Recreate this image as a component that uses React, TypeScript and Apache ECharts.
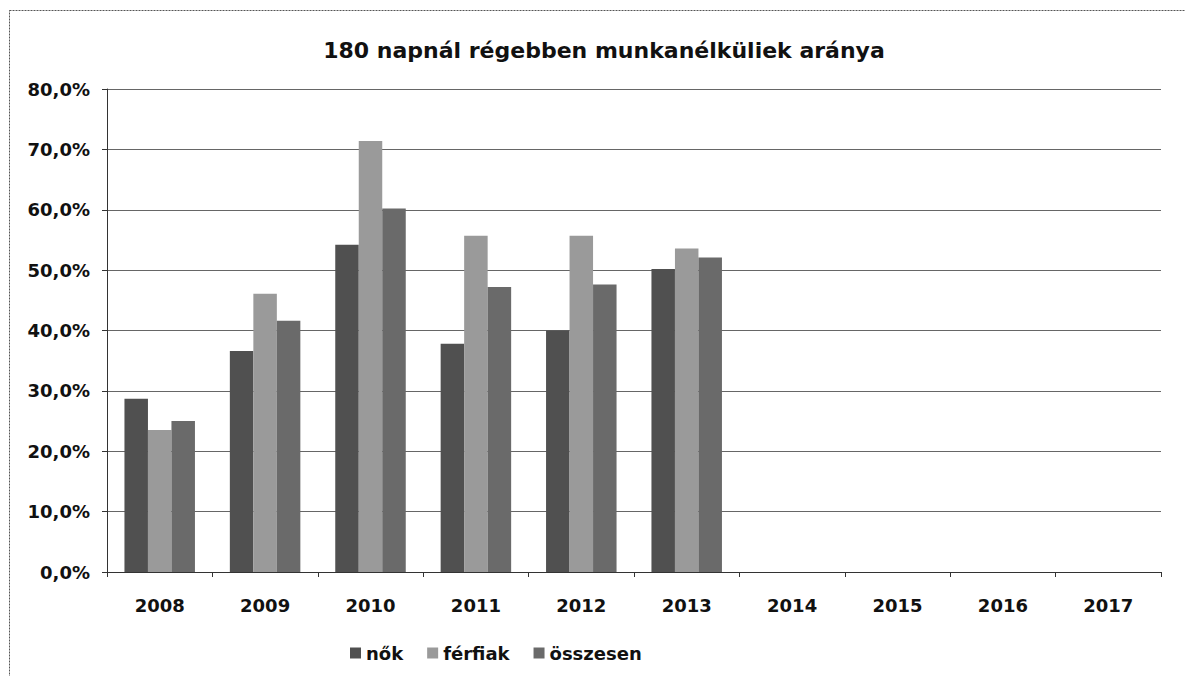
import React, { useEffect, useRef } from "react";
import * as echarts from "echarts";

const years = ["2008", "2009", "2010", "2011", "2012", "2013", "2014", "2015", "2016", "2017"];
const nok = [28.7, 36.6, 54.2, 37.8, 40.0, 50.2, null, null, null, null];
const ferfiak = [23.5, 46.1, 71.4, 55.7, 55.7, 53.6, null, null, null, null];
const osszesen = [25.0, 41.6, 60.2, 47.2, 47.6, 52.1, null, null, null, null];

const FONT = "DejaVu Sans";

export default function App() {
  const ref = useRef<HTMLDivElement>(null);
  useEffect(() => {
    document.body.style.margin = "0";
    const chart = echarts.init(ref.current!, null, { renderer: "svg" });
    chart.setOption({
      animation: false,
      backgroundColor: "#ffffff",
      title: {
        text: "180 napnál régebben munkanélküliek aránya",
        left: 599,
        textAlign: "center",
        top: 34,
        textStyle: { fontFamily: FONT, fontWeight: "bold", fontSize: 22, color: "#111" },
      },
      graphic: [
        {
          type: "rect",
          shape: { x: 9.5, y: 10.5, width: 1250, height: 750 },
          style: { fill: "none", stroke: "#555", lineWidth: 1, lineDash: [2, 1] },
          silent: true,
        },
      ],
      legend: {
        left: 345,
        top: 639,
        itemWidth: 11,
        itemHeight: 11,
        itemGap: 24,
        icon: "rect",
        textStyle: { fontFamily: FONT, fontWeight: "bold", fontSize: 18, color: "#111" },
        data: ["nők", "férfiak", "összesen"],
      },
      grid: { left: 107, right: 24, top: 89, bottom: 104, containLabel: false },
      xAxis: {
        type: "category",
        data: years,
        boundaryGap: true,
        axisLine: { lineStyle: { color: "#333", width: 1 } },
        axisTick: { show: true, length: 5, inside: false, alignWithLabel: false, lineStyle: { color: "#333" } },
        axisLabel: { fontFamily: FONT, fontWeight: "bold", fontSize: 18, color: "#111", margin: 24 },
        splitLine: { show: false },
      },
      yAxis: {
        type: "value",
        min: 0,
        max: 80,
        interval: 10,
        axisLine: { show: true, lineStyle: { color: "#333", width: 1 } },
        axisTick: { show: true, length: 5, lineStyle: { color: "#333" } },
        axisLabel: {
          fontFamily: FONT,
          fontWeight: "bold",
          fontSize: 18,
          color: "#111",
          margin: 17,
          formatter: (v: number) => v.toFixed(1).replace(".", ",") + "%",
        },
        splitLine: { show: true, lineStyle: { color: "#666", width: 1 } },
      },
      series: [
        { name: "nők", type: "bar", data: nok, barWidth: 23.5, barGap: "0%", itemStyle: { color: "#505050" } },
        { name: "férfiak", type: "bar", data: ferfiak, barWidth: 23.5, barGap: "0%", itemStyle: { color: "#9a9a9a" } },
        { name: "összesen", type: "bar", data: osszesen, barWidth: 23.5, barGap: "0%", itemStyle: { color: "#6a6a6a" } },
      ],
    });
    return () => chart.dispose();
  }, []);
  return <div ref={ref} style={{ position: "absolute", left: 0, top: 0, width: 1185, height: 676 }} />;
}
